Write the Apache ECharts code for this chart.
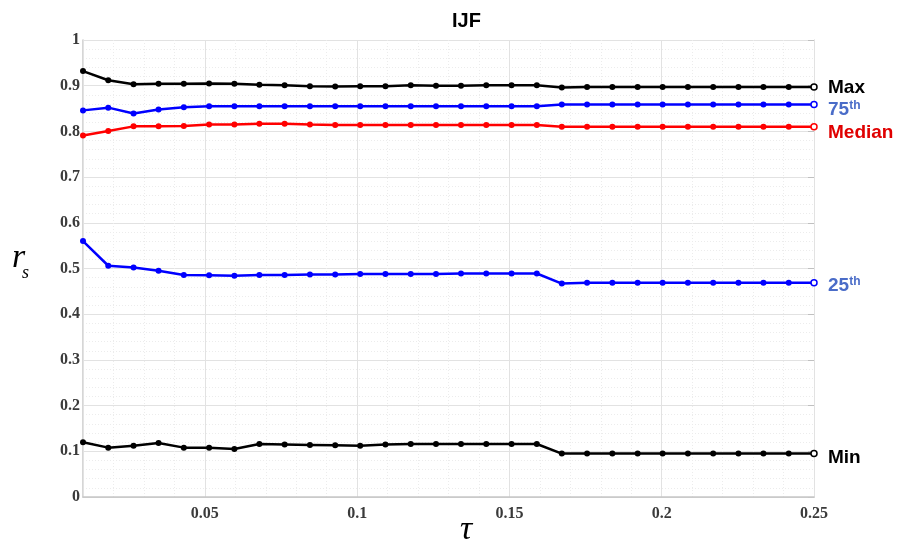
<!DOCTYPE html>
<html>
<head>
<meta charset="utf-8">
<script src="https://cdn.jsdelivr.net/npm/echarts@6/dist/echarts.min.js"></script>
<style>html,body{margin:0;padding:0;background:#fff;}#c{width:901px;height:544px;}</style>
</head>
<body>
<div id="c"></div>
<script>
var tau = [0.0100,0.0183,0.0266,0.0348,0.0431,0.0514,0.0597,0.0679,0.0762,0.0845,0.0928,0.1010,0.1093,0.1176,0.1259,0.1341,0.1424,0.1507,0.1590,0.1672,0.1755,0.1838,0.1921,0.2003,0.2086,0.2169,0.2252,0.2334,0.2417,0.2500];
var maxVals = [0.932,0.912,0.903,0.904,0.904,0.905,0.904,0.902,0.901,0.899,0.898,0.899,0.899,0.901,0.900,0.900,0.901,0.901,0.901,0.896,0.897,0.897,0.897,0.897,0.897,0.897,0.897,0.897,0.897,0.897];
var p75Vals = [0.846,0.852,0.839,0.848,0.853,0.855,0.855,0.855,0.855,0.855,0.855,0.855,0.855,0.855,0.855,0.855,0.855,0.855,0.855,0.859,0.859,0.859,0.859,0.859,0.859,0.859,0.859,0.859,0.859,0.859];
var medianVals = [0.791,0.801,0.811,0.811,0.812,0.815,0.815,0.817,0.817,0.815,0.814,0.814,0.814,0.814,0.814,0.814,0.814,0.814,0.814,0.810,0.810,0.810,0.810,0.810,0.810,0.810,0.810,0.810,0.810,0.810];
var p25Vals = [0.560,0.506,0.502,0.495,0.486,0.485,0.484,0.486,0.486,0.487,0.487,0.488,0.488,0.488,0.488,0.489,0.489,0.489,0.489,0.467,0.469,0.469,0.469,0.469,0.469,0.469,0.469,0.469,0.469,0.469];
var minVals = [0.120,0.108,0.112,0.118,0.108,0.108,0.105,0.116,0.115,0.114,0.113,0.112,0.115,0.116,0.116,0.116,0.116,0.116,0.116,0.095,0.095,0.095,0.095,0.095,0.095,0.095,0.095,0.095,0.095,0.095];

var labelFont = 'Liberation Sans, Arial, sans-serif';
function mkData(vals, color) {
  return vals.map(function (v, i) {
    var d = {value: [tau[i], v]};
    if (i === vals.length - 1) d.itemStyle = {color: '#fff', borderColor: color, borderWidth: 1.5};
    return d;
  });
}
function mkSeries(name, vals, color, label, labelColor, dy) {
  return {
    name: name, type: 'line', xAxisIndex: 0, yAxisIndex: 0,
    data: mkData(vals, color),
    symbol: 'circle', symbolSize: 6,
    lineStyle: {color: color, width: 2.5},
    itemStyle: {color: color},
    emphasis: {disabled: true},
    endLabel: {
      show: true, distance: 14, offset: [0, dy],
      formatter: function () { return label; },
      rich: {
        b: {fontFamily: labelFont, fontWeight: 'bold', fontSize: 19, color: labelColor, lineHeight: 20, verticalAlign: 'bottom'},
        s: {fontFamily: labelFont, fontWeight: 'bold', fontSize: 12, color: labelColor, lineHeight: 20, verticalAlign: 'top'}
      }
    },
    z: 3
  };
}

var tickLabelStyle = {fontFamily: 'Liberation Serif, Times New Roman, serif', fontWeight: 'bold', fontSize: 16, color: '#3a3a3a'};
var chart = echarts.init(document.getElementById('c'), null, {renderer: 'canvas'});
chart.setOption({
  animation: false,
  backgroundColor: '#fff',
  title: {text: 'IJF', left: 447, top: 6, textStyle: {fontFamily: labelFont, fontWeight: 'bold', fontSize: 20, color: '#000'}},
  grid: {left: 83, right: 87, top: 40, bottom: 47, containLabel: false},
  xAxis: [
    {
      type: 'value', position: 'bottom', min: 0.01, max: 0.25,
      axisLine: {show: true, lineStyle: {color: '#c8c8c8', width: 1.5}},
      axisTick: {show: false},
      axisLabel: {show: true, showMinLabel: false, margin: 9, formatter: function (v) { return String(+v.toFixed(2)); }, textStyle: tickLabelStyle},
      splitLine: {show: true, lineStyle: {color: '#e2e2e2', width: 1}},
      z: 1
    },
    {
      type: 'value', position: 'top', min: 0.01, max: 0.25, interval: 0.01,
      axisLine: {show: true, lineStyle: {color: '#d0d0d0', width: 1}},
      axisTick: {show: false},
      axisLabel: {show: false},
      splitLine: {show: true, lineStyle: {color: '#ececec', width: 1, type: [1, 2]}},
      z: 0
    }
  ],
  yAxis: [
    {
      type: 'value', position: 'left', min: 0, max: 1, interval: 0.1,
      axisLine: {show: true, lineStyle: {color: '#c8c8c8', width: 1.5}},
      axisTick: {show: false},
      axisLabel: {show: true, margin: 3, formatter: function (v) { return String(+v.toFixed(1)); }, textStyle: tickLabelStyle},
      splitLine: {show: true, lineStyle: {color: '#e2e2e2', width: 1}},
      minorTick: {show: false, splitNumber: 5},
      minorSplitLine: {show: true, lineStyle: {color: '#ececec', width: 1, type: [1, 2]}}
    },
    {
      type: 'value', position: 'right', min: 0, max: 1, interval: 0.1,
      axisLine: {show: true, lineStyle: {color: '#d0d0d0', width: 1}},
      axisTick: {show: true, inside: true, length: 6, lineStyle: {color: '#c0c0c0'}},
      axisLabel: {show: false},
      splitLine: {show: false}
    }
  ],
  graphic: [
    {type: 'text', style: {x: 12, y: 258, text: 'r', fontFamily: 'Liberation Serif, Times New Roman, serif', fontStyle: 'italic', fontSize: 34, fill: '#000', textAlign: 'left', textVerticalAlign: 'middle'}},
    {type: 'text', style: {x: 22, y: 273, text: 's', fontFamily: 'Liberation Serif, Times New Roman, serif', fontStyle: 'italic', fontSize: 18, fill: '#000', textAlign: 'left', textVerticalAlign: 'middle'}},
    {type: 'text', style: {x: 466, y: 530, text: 'τ', fontFamily: 'Liberation Serif, Times New Roman, serif', fontStyle: 'italic', fontSize: 34, fill: '#000', textAlign: 'center', textVerticalAlign: 'middle'}}
  ],
  series: [
    mkSeries('Max', maxVals, '#000000', '{b|Max}', '#000000', 0),
    mkSeries('75th', p75Vals, '#0000ff', '{b|75}{s|th}', '#4a6cc8', 5),
    mkSeries('Median', medianVals, '#ff0000', '{b|Median}', '#e00000', 5),
    mkSeries('25th', p25Vals, '#0000ff', '{b|25}{s|th}', '#4a6cc8', 3),
    mkSeries('Min', minVals, '#000000', '{b|Min}', '#000000', 4)
  ]
});
</script>
</body>
</html>
